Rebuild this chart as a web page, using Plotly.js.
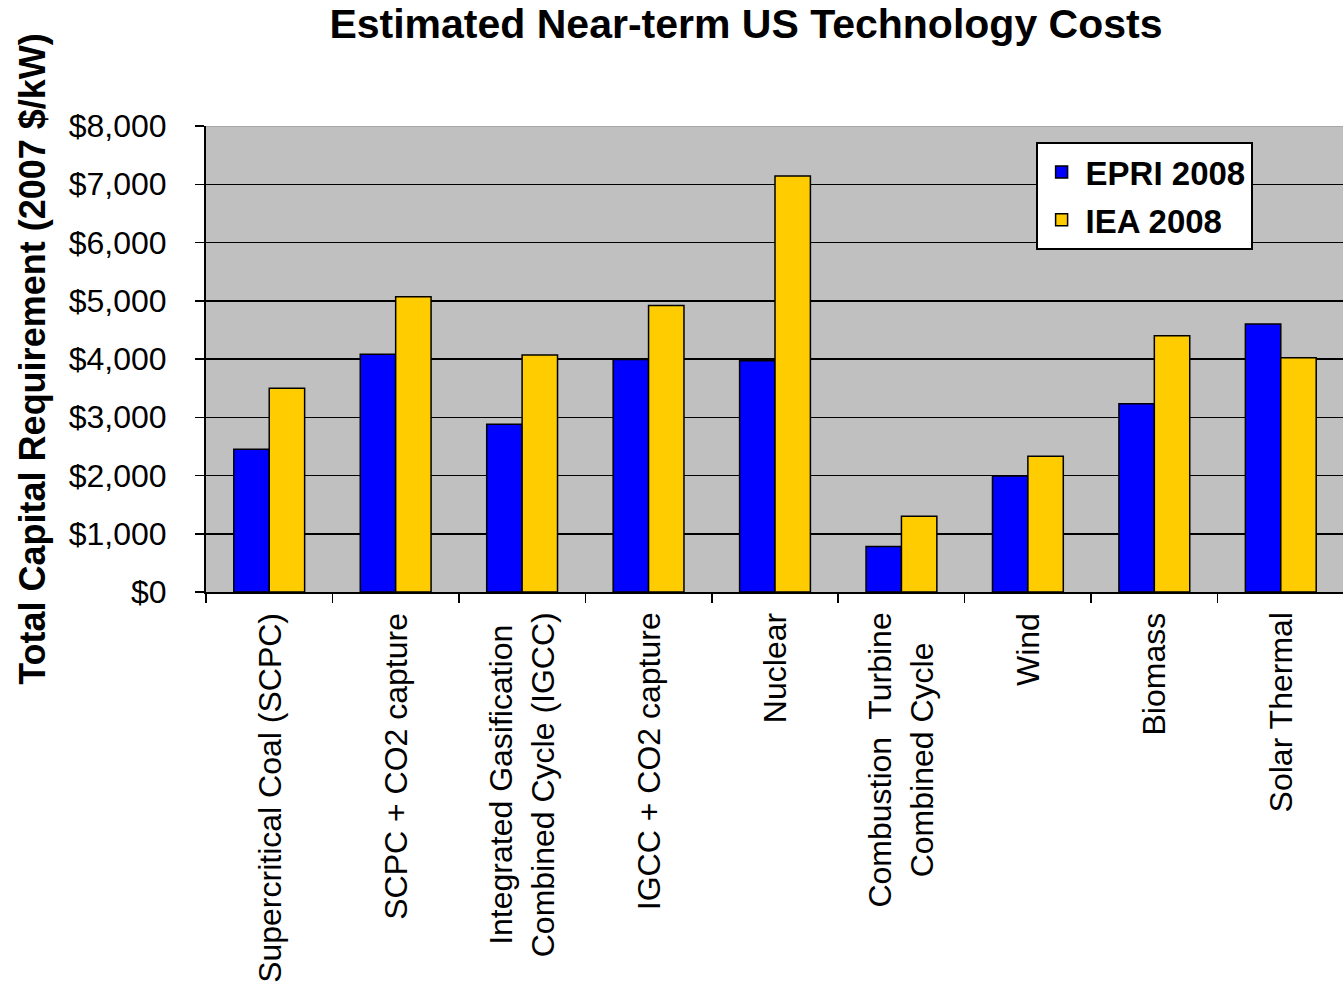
<!DOCTYPE html>
<html>
<head>
<meta charset="utf-8">
<script src="https://cdn.plot.ly/plotly-3.0.1.min.js"></script>
<style>
  html, body { margin: 0; padding: 0; overflow: hidden; background: #ffffff; }
  #chart { width: 1360px; height: 989px; }
</style>
</head>
<body>
<div id="chart"></div>
<script>
// Technology categories (line breaks mark two-line labels)
const categories = [
  'Supercritical Coal (SCPC)',
  'SCPC + CO2 capture',
  'Integrated Gasification<br>Combined Cycle (IGCC)',
  'IGCC + CO2 capture',
  'Nuclear',
  'Combustion  Turbine<br>Combined Cycle',
  'Wind',
  'Biomass',
  'Solar Thermal'
];

// Total capital requirement, 2007 $/kW
const epri2008 = [2450, 4080, 2880, 3990, 3970, 780, 1990, 3230, 4600];
const iea2008  = [3500, 5070, 4070, 4920, 7140, 1300, 2330, 4400, 4020];

const seriesNames = ['EPRI 2008', 'IEA 2008'];
const yTickValues = [0, 1000, 2000, 3000, 4000, 5000, 6000, 7000, 8000];
const yTickLabels = ['$0', '$1,000', '$2,000', '$3,000', '$4,000', '$5,000', '$6,000', '$7,000', '$8,000'];

const FONT = '"Liberation Sans", Arial, sans-serif';

const traces = [
  {
    type: 'bar', name: seriesNames[0], x: categories, y: epri2008,
    legendgroup: 'epri',
    marker: { color: '#0000FF', line: { color: '#000000', width: 1.5 } },
    hoverinfo: 'skip'
  },
  {
    type: 'bar', name: seriesNames[1], x: categories, y: iea2008,
    legendgroup: 'iea',
    marker: { color: '#FFCC00', line: { color: '#000000', width: 1.5 } },
    hoverinfo: 'skip'
  }
];

// Category labels: rotated, centred lines, hanging below the axis
const labelAnnotations = categories.map(c => ({
  x: c, xref: 'x',
  y: -0.040, yref: 'paper',
  yanchor: 'top', xanchor: 'center',
  text: c, textangle: -90, align: 'center',
  showarrow: false,
  font: { family: FONT, size: 32, color: '#000000' }
}));

const layout = {
  width: 1360, height: 989,
  margin: { l: 206, r: 16, t: 126, b: 397 },
  paper_bgcolor: '#ffffff',
  plot_bgcolor: '#C0C0C0',
  font: { family: FONT, color: '#000000' },
  title: {
    text: '<b>Estimated Near-term US Technology Costs</b>',
    font: { family: FONT, size: 41, color: '#000000' },
    xref: 'container', yref: 'container',
    x: 0.5485, xanchor: 'center',
    y: 0.9757, yanchor: 'middle'
  },
  barmode: 'group',
  bargap: 0.44,
  bargroupgap: 0,
  xaxis: {
    type: 'category',
    showticklabels: false,
    ticks: 'outside', tickson: 'boundaries', ticklen: 9, tickwidth: 1.5, tickcolor: '#000000',
    showline: true, linecolor: '#000000', linewidth: 2,
    showgrid: false, zeroline: false
  },
  yaxis: {
    range: [0, 8000],
    tickmode: 'array',
    tickvals: yTickValues,
    ticktext: yTickLabels,
    ticks: 'outside', ticklen: 9, tickwidth: 1.5, tickcolor: '#000000',
    ticklabelstandoff: 22,
    tickfont: { family: FONT, size: 32, color: '#000000' },
    showline: true, linecolor: '#000000', linewidth: 2,
    showgrid: true, gridcolor: '#000000', gridwidth: 1.5,
    zeroline: false,
    title: {
      text: '<b>Total Capital Requirement (2007 $/kW)</b>',
      font: { family: FONT, size: 36, color: '#000000' },
      standoff: 12
    }
  },
  legend: {
    x: 0.7290, xanchor: 'left',
    y: 0.9657, yanchor: 'top',
    bgcolor: '#ffffff',
    bordercolor: '#000000', borderwidth: 2,
    font: { family: FONT, size: 33, color: '#000000', weight: 'bold' },
    traceorder: 'grouped',
    tracegroupgap: 2,
    itemwidth: 38,
    entrywidth: 190,
    entrywidthmode: 'pixels'
  },
  shapes: [
    {
      type: 'line', xref: 'paper', yref: 'y',
      x0: 0, x1: 1, y0: 8000, y1: 8000,
      line: { color: '#A8A8A8', width: 2 }, layer: 'above'
    }
  ],
  annotations: labelAnnotations
};

Plotly.newPlot('chart', traces, layout, { displayModeBar: false, staticPlot: true });
</script>
</body>
</html>
